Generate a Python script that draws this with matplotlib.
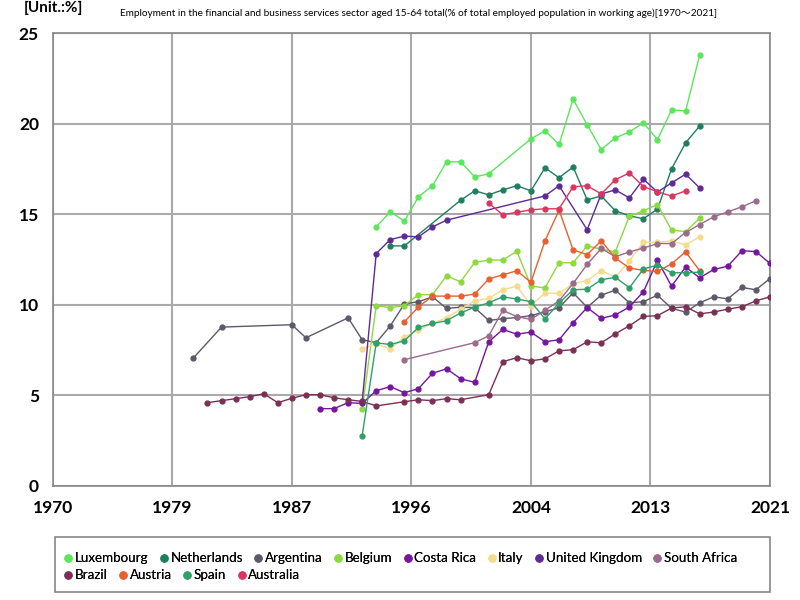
import matplotlib
matplotlib.use("Agg")
import matplotlib.pyplot as plt
from matplotlib.lines import Line2D
from matplotlib.patches import Rectangle

plt.rcParams['font.family'] = ['Lato', 'Noto Sans CJK JP', 'DejaVu Sans']

title = "Employment in the financial and business services sector aged 15-64 total(% of total employed population in working age)[1970\uff5e2021]"

# ---- data ----
lux_years = [1993, 1994, 1995, 1996, 1997, 1998, 1999, 2000, 2001, 2004, 2005, 2006, 2007, 2008, 2009, 2010, 2011, 2012, 2013, 2014, 2015, 2016]
lux_vals = [14.30, 15.13, 14.62, 15.96, 16.57, 17.89, 17.89, 17.06, 17.23, 19.16, 19.60, 18.85, 21.35, 19.93, 18.57, 19.21, 19.54, 20.04, 19.12, 20.76, 20.70, 23.79]

nld_years = [1994, 1995, 1999, 2000, 2001, 2002, 2003, 2004, 2005, 2006, 2007, 2008, 2009, 2010, 2011, 2012, 2013, 2014, 2015, 2016]
nld_vals = [13.25, 13.25, 15.77, 16.29, 16.07, 16.34, 16.57, 16.29, 17.56, 17.01, 17.61, 15.79, 16.01, 15.19, 14.91, 14.75, 15.28, 17.50, 18.94, 19.87]

arg_years = [1980, 1982, 1987, 1988, 1991, 1992, 1993, 1994, 1995, 1996, 1997, 1998, 1999, 2000, 2001, 2002, 2003, 2004, 2005, 2006, 2007, 2008, 2009, 2010, 2011, 2012, 2013, 2014, 2015, 2016, 2017, 2018, 2019, 2020, 2021]
arg_vals = [7.07, 8.77, 8.90, 8.18, 9.28, 8.07, 7.91, 8.84, 10.05, 10.17, 10.44, 9.80, 9.87, 9.84, 9.14, 9.23, 9.30, 9.40, 9.61, 9.84, 10.66, 9.86, 10.53, 10.81, 10.11, 10.17, 10.53, 9.80, 9.60, 10.11, 10.44, 10.33, 10.96, 10.83, 11.45]

bel_years = [1992, 1993, 1994, 1995, 1996, 1997, 1998, 1999, 2000, 2001, 2002, 2003, 2004, 2005, 2006, 2007, 2008, 2009, 2010, 2011, 2012, 2013, 2014, 2015, 2016]
bel_vals = [4.23, 9.96, 9.84, 9.96, 10.56, 10.56, 11.60, 11.27, 12.34, 12.47, 12.47, 12.96, 11.04, 10.93, 12.32, 12.32, 13.25, 13.07, 12.92, 14.89, 15.19, 15.53, 14.12, 14.04, 14.78]

cri_years = [1989, 1990, 1991, 1992, 1993, 1994, 1995, 1996, 1997, 1998, 1999, 2000, 2001, 2002, 2003, 2004, 2005, 2006, 2007, 2008, 2009, 2010, 2011, 2012, 2013, 2014, 2015, 2016, 2017, 2018, 2019, 2020, 2021]
cri_vals = [4.27, 4.27, 4.60, 4.56, 5.26, 5.48, 5.15, 5.37, 6.22, 6.47, 5.92, 5.72, 7.96, 8.64, 8.38, 8.49, 7.96, 8.07, 9.01, 9.85, 9.25, 9.44, 9.88, 10.72, 12.45, 11.03, 12.08, 11.49, 11.95, 12.13, 12.98, 12.94, 12.28]

ita_years = [1992, 1993, 1994, 1995, 1996, 1997, 1998, 1999, 2000, 2001, 2002, 2003, 2004, 2005, 2006, 2007, 2008, 2009, 2010, 2011, 2012, 2013, 2014, 2015, 2016]
ita_vals = [7.56, 7.85, 7.56, 8.22, 8.62, 8.97, 9.28, 9.75, 10.22, 10.35, 10.83, 11.03, 9.96, 10.65, 10.63, 11.16, 11.34, 11.89, 11.51, 12.42, 13.46, 13.44, 13.53, 13.31, 13.75]

gbr_years = [1992, 1993, 1994, 1995, 1996, 1997, 1998, 2005, 2006, 2008, 2009, 2010, 2011, 2012, 2013, 2014, 2015, 2016]
gbr_vals = [4.65, 12.83, 13.60, 13.79, 13.75, 14.30, 14.67, 16.01, 16.57, 14.14, 16.12, 16.34, 15.90, 16.93, 16.22, 16.73, 17.21, 16.45]

zaf_years = [1995, 2000, 2001, 2002, 2003, 2004, 2005, 2006, 2007, 2008, 2009, 2010, 2011, 2012, 2013, 2014, 2015, 2016, 2017, 2018, 2019, 2020]
zaf_vals = [6.97, 7.91, 8.29, 9.69, 9.35, 9.19, 9.70, 10.22, 11.18, 12.23, 13.11, 12.65, 12.92, 13.13, 13.38, 13.38, 13.99, 14.43, 14.86, 15.13, 15.41, 15.74]

bra_years = [1981, 1982, 1983, 1984, 1985, 1986, 1987, 1988, 1989, 1990, 1991, 1992, 1993, 1995, 1996, 1997, 1998, 1999, 2001, 2002, 2003, 2004, 2005, 2006, 2007, 2008, 2009, 2010, 2011, 2012, 2013, 2014, 2015, 2016, 2017, 2018, 2019, 2020, 2021]
bra_vals = [4.60, 4.71, 4.82, 4.93, 5.09, 4.60, 4.84, 5.04, 5.04, 4.87, 4.76, 4.67, 4.42, 4.65, 4.76, 4.71, 4.82, 4.76, 5.04, 6.86, 7.08, 6.91, 7.02, 7.46, 7.52, 7.96, 7.90, 8.40, 8.84, 9.36, 9.40, 9.82, 9.89, 9.50, 9.60, 9.76, 9.89, 10.22, 10.44]

aut_years = [1995, 1996, 1997, 1998, 1999, 2000, 2001, 2002, 2003, 2004, 2005, 2006, 2007, 2008, 2009, 2010, 2011, 2012, 2013, 2014, 2015, 2016]
aut_vals = [9.06, 9.88, 10.48, 10.48, 10.48, 10.59, 11.43, 11.65, 11.88, 11.24, 13.53, 15.22, 13.03, 12.77, 13.53, 12.58, 12.03, 11.90, 11.84, 12.26, 12.92, 11.88]

esp_years = [1992, 1993, 1994, 1995, 1996, 1997, 1998, 1999, 2000, 2001, 2002, 2003, 2004, 2005, 2006, 2007, 2008, 2009, 2010, 2011, 2012, 2013, 2014, 2015, 2016]
esp_vals = [2.78, 7.90, 7.81, 8.01, 8.75, 8.97, 9.12, 9.55, 9.87, 10.11, 10.44, 10.32, 10.17, 9.22, 10.10, 10.83, 10.86, 11.38, 11.52, 10.94, 11.98, 12.19, 11.77, 11.77, 11.80]

aus_years = [2001, 2002, 2003, 2004, 2005, 2006, 2007, 2008, 2009, 2010, 2011, 2012, 2013, 2014, 2015]
aus_vals = [15.61, 14.97, 15.11, 15.24, 15.30, 15.30, 16.51, 16.57, 16.12, 16.90, 17.28, 16.52, 16.24, 16.00, 16.29]

series = [
    ("Luxembourg", lux_years, lux_vals, "#5ce65c"),
    ("Netherlands", nld_years, nld_vals, "#1f7f5c"),
    ("Argentina", arg_years, arg_vals, "#5f5868"),
    ("Belgium", bel_years, bel_vals, "#8cd940"),
    ("Costa Rica", cri_years, cri_vals, "#74169e"),
    ("Italy", ita_years, ita_vals, "#f3dc8c"),
    ("United Kingdom", gbr_years, gbr_vals, "#5e2a96"),
    ("South Africa", zaf_years, zaf_vals, "#9c6a8c"),
    ("Brazil", bra_years, bra_vals, "#7c2f55"),
    ("Austria", aut_years, aut_vals, "#e8602f"),
    ("Spain", esp_years, esp_vals, "#2fa06a"),
    ("Australia", aus_years, aus_vals, "#d93660"),
]

xtick_pos = [1970 + 8.5 * i for i in range(7)]
xtick_labels = ["1970", "1979", "1987", "1996", "2004", "2013", "2021"]

fig = plt.figure(figsize=(8, 6), dpi=100)
ax = fig.add_axes([0.066, 0.19, 0.8965, 0.755])

for name, yrs, vals, col in series:
    ax.plot(yrs, vals, color=col, lw=1, marker="o", ms=3.5, zorder=3)

ax.set_xlim(1970, 2021)
ax.set_ylim(0, 25)
ax.set_xticks(xtick_pos)
ax.set_xticklabels(xtick_labels)
ax.set_yticks([0, 5, 10, 15, 20, 25])
ax.grid(True, color="#aaaaaa", lw=1.5)
ax.set_axisbelow(True)
for s in ax.spines.values():
    s.set_color("#888888")
    s.set_linewidth(1.2)
ax.tick_params(length=0, labelsize=12.5, pad=10)
for lbl in ax.get_xticklabels() + ax.get_yticklabels():
    lbl.set_fontweight("bold")

fig.text(0.523, 0.978, title, ha="center", va="center", fontsize=7.2)
fig.text(0.03, 0.999, "[Unit.:%]", ha="left", va="top", fontsize=11, fontweight="bold")

# legend: two rows, flowing left to right, inside one gray frame
fig.patches.append(Rectangle((0.069, 1 - 592 / 600), 0.893, 55 / 600, transform=fig.transFigure,
                             fill=False, edgecolor="#888888", lw=1.2))

rows = [series[:8], series[8:]]
row_y = [1 - 547 / 600, 1 - 564 / 600]
for row, yy in zip(rows, row_y):
    handles = [Line2D([], [], ls="none", marker="o", ms=5, color=c) for _, _, _, c in row]
    labels = [n for n, _, _, _ in row]
    leg = fig.legend(handles, labels, loc="upper left", bbox_to_anchor=(0.071, yy),
                     ncol=len(row), frameon=False, fontsize=9.6, handletextpad=0.05,
                     columnspacing=0.7, borderaxespad=0, handlelength=0.9)
    fig.add_artist(leg)

fig.savefig("out.png", dpi=100)
